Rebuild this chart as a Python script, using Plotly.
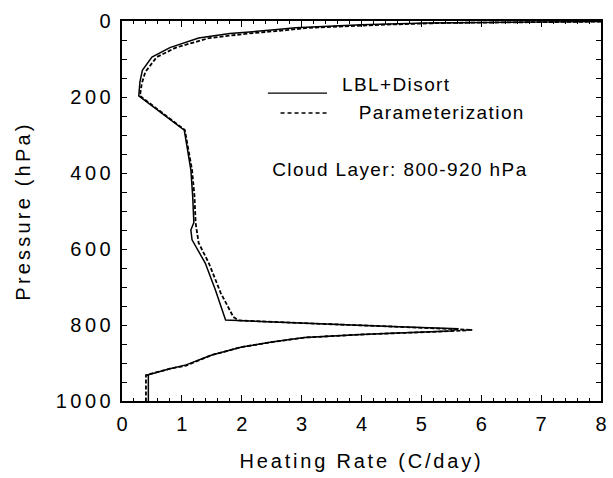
import plotly.graph_objects as go

# Data
solid_x = [8.5, 6.2, 5.1, 4.0, 2.9, 2.5, 1.8, 1.28, 0.8, 0.5, 0.34, 0.3, 0.28, 1.04, 1.15, 1.18, 1.2, 1.15, 1.17, 1.39, 1.56, 1.73,
           2.5, 3.5, 4.5, 5.62, 5.5, 4.5, 4.0, 3.05, 2.5, 2.0, 1.5, 1.07, 0.8, 0.41, 0.44, 0.44]
solid_p = [1, 2.6, 5, 10, 18, 24, 33, 45, 70, 95, 130, 160, 197, 287, 392, 460, 530, 550, 576, 637, 708, 787,
           792, 798, 804, 810, 816, 822, 825, 833, 845, 858, 879, 905, 915, 932, 933, 1000]

dashed_x = [8.5, 6.5, 5.4, 4.3, 3.1, 2.75, 2.1, 1.45, 0.9, 0.58, 0.39, 0.33, 0.3, 1.05, 1.17, 1.21, 1.23, 1.28, 1.45, 1.65, 1.86, 1.95,
            2.5, 3.5, 4.5, 5.85, 5.5, 4.5, 4.0, 3.05, 2.5, 2.0, 1.5, 1.07, 0.8, 0.40, 0.40]
dashed_p = [1, 2.6, 5, 10, 18, 24, 33, 45, 70, 95, 134, 165, 197, 287, 392, 460, 532, 584, 637, 716, 779, 788,
            792, 798, 804, 813, 816, 822, 825, 833, 845, 858, 879, 907, 915, 932, 1000]

x_ticks = [0, 1, 2, 3, 4, 5, 6, 7, 8]
y_ticks = [0, 200, 400, 600, 800, 1000]

series_names = ["LBL+Disort", "Parameterization"]
note_text = "Cloud Layer: 800-920 hPa"

FONT = "Liberation Sans, Arial, Helvetica, sans-serif"
ANN_LS = 1.4  # letter spacing (px) of the in-plot texts

fig = go.Figure()
fig.add_trace(go.Scatter(x=solid_x, y=solid_p, mode="lines", name=series_names[0],
                         line=dict(color="black", width=1.5), showlegend=False))
fig.add_trace(go.Scatter(x=dashed_x, y=dashed_p, mode="lines", name=series_names[1],
                         line=dict(color="black", width=1.8, dash="4px,2px"), showlegend=False))

fig.update_layout(
    width=613, height=478,
    margin=dict(l=122, r=6, t=21, b=77),
    paper_bgcolor="white", plot_bgcolor="white",
    font=dict(family=FONT, color="black", size=20),
)

fig.update_xaxes(
    range=[0, 8], tickvals=x_ticks, ticktext=[str(v) for v in x_ticks],
    ticks="inside", ticklen=6, tickwidth=1.2, tickcolor="black",
    minor=dict(dtick=0.2, ticks="inside", ticklen=3, tickwidth=1, tickcolor="black"),
    showline=True, linecolor="black", linewidth=1.6, mirror="ticks",
    showgrid=False, zeroline=False,
    tickfont=dict(size=20), ticklabelstandoff=4,
    title=dict(text="Heating Rate (C/day)", font=dict(size=20), standoff=20),
)
fig.update_yaxes(
    range=[1000, 0], tickvals=y_ticks, ticktext=[str(v) for v in y_ticks],
    ticks="inside", ticklen=5, tickwidth=1.2, tickcolor="black",
    minor=dict(dtick=50, ticks="inside", ticklen=5, tickwidth=1, tickcolor="black"),
    showline=True, linecolor="black", linewidth=1.6, mirror="ticks",
    showgrid=False, zeroline=False,
    tickfont=dict(size=20), ticklabelstandoff=2,
    title=dict(text="Pressure (hPa)", font=dict(size=20), standoff=34),
)

# legend drawn as text + sample lines
fig.add_shape(type="line", xref="paper", yref="paper", x0=0.3045, x1=0.428, y0=0.81, y1=0.81,
              line=dict(color="black", width=1.3))
fig.add_shape(type="line", xref="paper", yref="paper", x0=0.331, x1=0.428, y0=0.758, y1=0.758,
              line=dict(color="black", width=1.6, dash="4px,3px"))
for txt, ax, ay in [(series_names[0], 0.4547, 0.832), (series_names[1], 0.4897, 0.759), (note_text, 0.3086, 0.608)]:
    fig.add_annotation(xref="paper", yref="paper", x=ax, y=ay, text=txt,
                       showarrow=False, xanchor="left", yanchor="middle", font=dict(size=19),
                       xshift=len(txt) * ANN_LS / 2)

post = """
document.body.style.margin='0';
document.body.style.padding='0';
var gd = document.getElementById('{plot_id}');
function ls(){
  gd.querySelectorAll('.ytick text').forEach(function(t){t.style.letterSpacing='3.5px';});
  gd.querySelectorAll('.g-xtitle text').forEach(function(t){t.style.letterSpacing='2.8px';});
  gd.querySelectorAll('.g-ytitle text').forEach(function(t){t.style.letterSpacing='3.2px';});
  gd.querySelectorAll('.annotation-text').forEach(function(t){t.style.letterSpacing='1.4px';});
}
ls();
gd.on('plotly_afterplot', ls);
"""

fig.write_html("out.html", post_script=post, config={"displayModeBar": False})
